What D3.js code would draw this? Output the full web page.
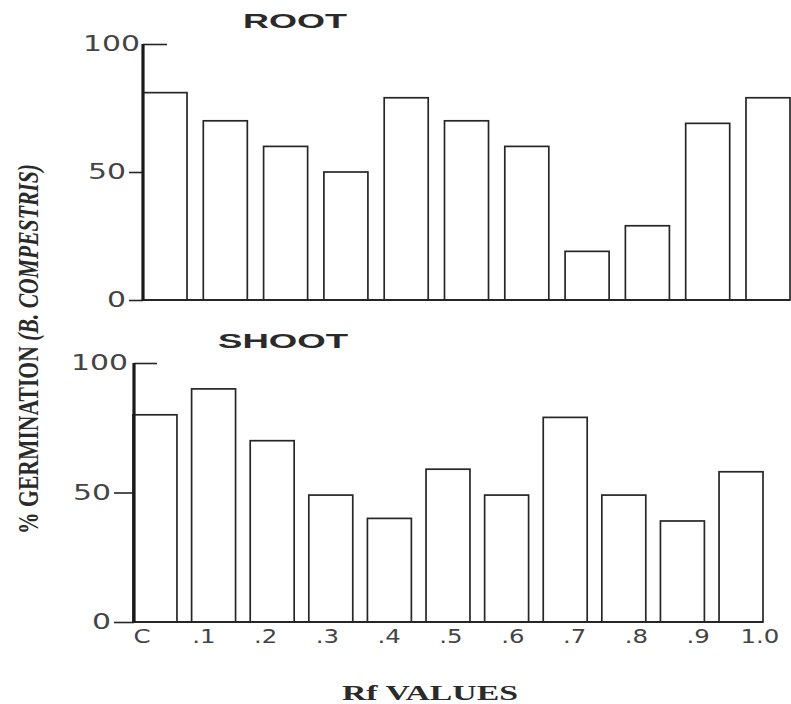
<!DOCTYPE html>
<html>
<head>
<meta charset="utf-8">
<script src="https://cdn.jsdelivr.net/npm/d3@7/dist/d3.min.js"></script>
<style>
  html, body { margin: 0; padding: 0; background: #fff; }
  svg { display: block; }
</style>
</head>
<body>
<svg id="chart" width="791" height="704"></svg>
<script>
// ---- data ----
const categories  = ["C", ".1", ".2", ".3", ".4", ".5", ".6", ".7", ".8", ".9", "1.0"];
const rootValues  = [81, 70, 60, 50, 79, 70, 60, 19, 29, 69, 79];
const shootValues = [80, 90, 70, 49, 40, 59, 49, 79, 49, 39, 58];
const yTickValues = [0, 50, 100];
const panelTitles = ["ROOT", "SHOOT"];
const yAxisTitle  = "% GERMINATION ";
const yAxisTitleItalic = "(B. COMPESTRIS)";
const xAxisTitle  = "Rf VALUES";

const svg = d3.select("#chart");
const ink = "#262626";

function drawPanel(cfg) {
  const x = d3.scaleBand().domain(categories).range([cfg.x0, cfg.x1])
    .paddingInner(cfg.padInner).paddingOuter(0);
  const y = d3.scaleLinear().domain([0, 100]).range([cfg.yBase, cfg.yTop]);
  const g = svg.append("g");

  // bars
  g.selectAll("rect.bar").data(cfg.values).join("rect")
    .attr("class", "bar")
    .attr("x", (d, i) => x(categories[i]))
    .attr("y", d => y(d))
    .attr("width", x.bandwidth())
    .attr("height", d => y(0) - y(d))
    .attr("fill", "#fff")
    .attr("stroke", ink)
    .attr("stroke-width", 1.7);

  // baseline
  g.append("line")
    .attr("x1", cfg.x0).attr("x2", cfg.x1)
    .attr("y1", y(0)).attr("y2", y(0))
    .attr("stroke", ink).attr("stroke-width", 2.2);

  // y axis
  const ax = g.append("g")
    .attr("transform", `translate(${cfg.axisX},0)`)
    .call(d3.axisLeft(y).tickValues(yTickValues).tickSize(cfg.tickSize).tickPadding(3));
  ax.select(".domain").remove();
  ax.selectAll(".tick line").attr("stroke", ink).attr("stroke-width", 1.6);
  ax.selectAll(".tick").filter(d => d === 100).select("line")
    .attr("x2", cfg.topTick);
  ax.selectAll(".tick").filter(d => d === 100).select("text")
    .attr("x", cfg.topTextX);
  ax.selectAll(".tick text")
    .attr("font-family", "DejaVu Sans, sans-serif")
    .attr("font-size", 21)
    .attr("fill", "#444")
    .attr("textLength", d => String(d).length * 19)
    .attr("lengthAdjust", "spacingAndGlyphs");

  // thick axis line
  g.append("line")
    .attr("x1", cfg.axisX).attr("x2", cfg.axisX)
    .attr("y1", y(100)).attr("y2", y(0) + 1)
    .attr("stroke", "#1a1a1a").attr("stroke-width", 3.2);

  // title
  g.append("text")
    .attr("x", cfg.titleX).attr("y", cfg.titleY)
    .attr("font-family", "Liberation Sans, Arial, sans-serif")
    .attr("font-weight", "bold")
    .attr("font-size", 21)
    .attr("fill", "#2a2a2a")
    .attr("textLength", cfg.titleLen)
    .attr("lengthAdjust", "spacingAndGlyphs")
    .text(cfg.title);

  return { x, y };
}

drawPanel({
  values: rootValues, title: panelTitles[0],
  x0: 143, x1: 790, padInner: 0.27, yBase: 300, yTop: 44,
  axisX: 143, tickSize: 14, topTick: 24, topTextX: -3,
  titleX: 243, titleY: 28, titleLen: 104
});

const bottom = drawPanel({
  values: shootValues, title: panelTitles[1],
  x0: 133, x1: 763, padInner: 0.25, yBase: 622, yTop: 363,
  axisX: 134, tickSize: 20, topTick: 23, topTextX: -6,
  titleX: 218, titleY: 348, titleLen: 130
});

// x tick labels (category names under the lower panel)
const xl = d3.scalePoint().domain(categories).range([142, 760]);
const xg = svg.append("g");
xg.selectAll("text").data(categories).join("text")
  .attr("x", d => xl(d))
  .attr("y", 643)
  .attr("text-anchor", "middle")
  .attr("font-family", "DejaVu Sans, sans-serif")
  .attr("font-size", 20)
  .attr("fill", "#444")
  .text(d => d)
  .each(function () {
    const w = this.getComputedTextLength();
    d3.select(this).attr("textLength", w * 1.22).attr("lengthAdjust", "spacingAndGlyphs");
  });

// x axis title
svg.append("text")
  .attr("x", 342).attr("y", 700)
  .attr("font-family", "Liberation Serif, Times New Roman, serif")
  .attr("font-weight", "bold")
  .attr("font-size", 20)
  .attr("fill", "#2a2a2a")
  .attr("textLength", 176)
  .attr("lengthAdjust", "spacingAndGlyphs")
  .text(xAxisTitle);

// y axis title (rotated)
const yt = svg.append("text")
  .attr("transform", "translate(38,349) rotate(-90)")
  .attr("text-anchor", "middle")
  .attr("font-family", "Liberation Serif, Times New Roman, serif")
  .attr("font-weight", "bold")
  .attr("font-size", 30)
  .attr("fill", "#2a2a2a")
  .attr("textLength", 370)
  .attr("lengthAdjust", "spacingAndGlyphs");
yt.append("tspan").text(yAxisTitle);
yt.append("tspan").attr("font-style", "italic").text(yAxisTitleItalic);
</script>
</body>
</html>
